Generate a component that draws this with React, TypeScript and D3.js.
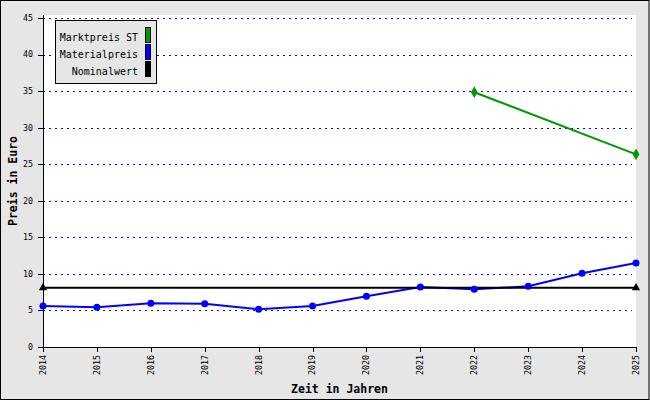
import React from "react";
import * as d3 from "d3";

const years = [2014, 2015, 2016, 2017, 2018, 2019, 2020, 2021, 2022, 2023, 2024, 2025];
const materialValues = [5.6, 5.45, 6.0, 5.9, 5.15, 5.6, 6.95, 8.2, 7.9, 8.3, 10.1, 11.5];
const marketYears = [2022, 2025];
const marketValues = [34.85, 26.35];
const nominalYears = [2014, 2025];
const nominalValues = [8.1, 8.1];
const yTicks = [0, 5, 10, 15, 20, 25, 30, 35, 40, 45];
const legendLabels = ["Marktpreis ST", "Materialpreis", "Nominalwert"];
const legendColors = ["#009900", "#0000ff", "#000000"];

const W = 650;
const H = 400;
const plot = { left: 43, right: 636, top: 15, bottom: 347 };
const FONT = "'DejaVu Sans Mono', 'Liberation Mono', monospace";
const BG = "#e6e6e6";

export default function App() {
  const x = d3.scaleLinear().domain([years[0], years[years.length - 1]]).range([plot.left, plot.right]);
  const y = d3.scaleLinear().domain([0, 45]).range([plot.bottom, 18]);

  const line = d3
    .line<[number, number]>()
    .x((d) => x(d[0]))
    .y((d) => y(d[1]));

  const material: [number, number][] = years.map((yr, i) => [yr, materialValues[i]]);
  const market: [number, number][] = marketYears.map((yr, i) => [yr, marketValues[i]]);
  const nominal: [number, number][] = nominalYears.map((yr, i) => [yr, nominalValues[i]]);

  const diamond = d3.symbol().type(d3.symbolDiamond).size(40)() as string;
  const triangle = d3.symbol().type(d3.symbolTriangle).size(30)() as string;

  return (
    <svg
      width={W}
      height={H}
      style={{ position: "absolute", left: 0, top: 0 }}
      fontFamily={FONT}
    >
      <rect x={0} y={0} width={W} height={H} fill={BG} />
      <rect x={0.5} y={0.5} width={W - 1.5} height={H - 1} fill="none" stroke="#000" strokeWidth={1} />
      <rect
        x={plot.left}
        y={plot.top}
        width={plot.right - plot.left}
        height={plot.bottom - plot.top}
        fill="#ffffff"
      />
      {/* grid */}
      {yTicks.filter((t) => t > 0).map((t) => (
        <line
          key={"g" + t}
          x1={plot.left}
          x2={plot.right - 4}
          y1={Math.round(y(t)) + 0.5}
          y2={Math.round(y(t)) + 0.5}
          stroke="#0000ff"
          strokeWidth={1}
          strokeDasharray="2,4"
          shapeRendering="crispEdges"
        />
      ))}
      {/* axes */}
      <line x1={plot.left + 0.5} x2={plot.left + 0.5} y1={plot.top} y2={plot.bottom + 5} stroke="#000" shapeRendering="crispEdges" />
      <line x1={plot.left - 5} x2={plot.right} y1={plot.bottom + 0.5} y2={plot.bottom + 0.5} stroke="#000" shapeRendering="crispEdges" />
      {yTicks.map((t) => (
        <g key={"yt" + t}>
          <line
            x1={plot.left - 5}
            x2={plot.left}
            y1={Math.round(y(t)) + 0.5}
            y2={Math.round(y(t)) + 0.5}
            stroke="#000"
            shapeRendering="crispEdges"
          />
          <text x={33} y={y(t)} dy="0.35em" textAnchor="end" fontSize={8.3} fill="#000">
            {t}
          </text>
        </g>
      ))}
      {years.map((yr) => (
        <g key={"xt" + yr}>
          <line
            x1={Math.round(x(yr)) + 0.5}
            x2={Math.round(x(yr)) + 0.5}
            y1={plot.bottom}
            y2={plot.bottom + 5}
            stroke="#000"
            shapeRendering="crispEdges"
          />
          <text
            transform={`translate(${x(yr)},355) rotate(-90)`}
            dy="0.35em"
            textAnchor="end"
            fontSize={8.3}
            fill="#000"
          >
            {yr}
          </text>
        </g>
      ))}
      {/* axis titles */}
      <text x={(plot.left + plot.right) / 2} y={393} textAnchor="middle" fontSize={11.5} fontWeight="bold" fill="#000">
        Zeit in Jahren
      </text>
      <text
        transform={`translate(17,${(plot.top + plot.bottom) / 2}) rotate(-90)`}
        textAnchor="middle"
        fontSize={11.5}
        fontWeight="bold"
        fill="#000"
      >
        Preis in Euro
      </text>
      {/* series lines */}
      <path d={line(market) as string} fill="none" stroke="#009900" strokeWidth={2} />
      <path d={line(material) as string} fill="none" stroke="#0000ff" strokeWidth={2} />
      <path d={line(nominal) as string} fill="none" stroke="#000000" strokeWidth={2} />
      {/* markers */}
      {market.map((d, i) => (
        <path key={"mk" + i} d={diamond} transform={`translate(${x(d[0])},${y(d[1])})`} fill="#009900" />
      ))}
      {material.map((d, i) => (
        <circle key={"ma" + i} cx={x(d[0])} cy={y(d[1])} r={3.5} fill="#0000ff" />
      ))}
      {nominal.map((d, i) => (
        <path key={"no" + i} d={triangle} transform={`translate(${x(d[0])},${y(d[1])})`} fill="#000" />
      ))}
      {/* legend */}
      <rect x={55.5} y={20.5} width={101} height={63} fill={BG} stroke="#000" shapeRendering="crispEdges" />
      {legendLabels.map((lab, i) => (
        <g key={"lg" + i}>
          <text x={138} y={40.5 + i * 17} textAnchor="end" fontSize={10} fill="#000">
            {lab}
          </text>
          <rect
            x={145.5}
            y={27.5 + i * 17}
            width={5}
            height={15}
            fill={legendColors[i]}
            stroke="#000"
            shapeRendering="crispEdges"
          />
        </g>
      ))}
    </svg>
  );
}
